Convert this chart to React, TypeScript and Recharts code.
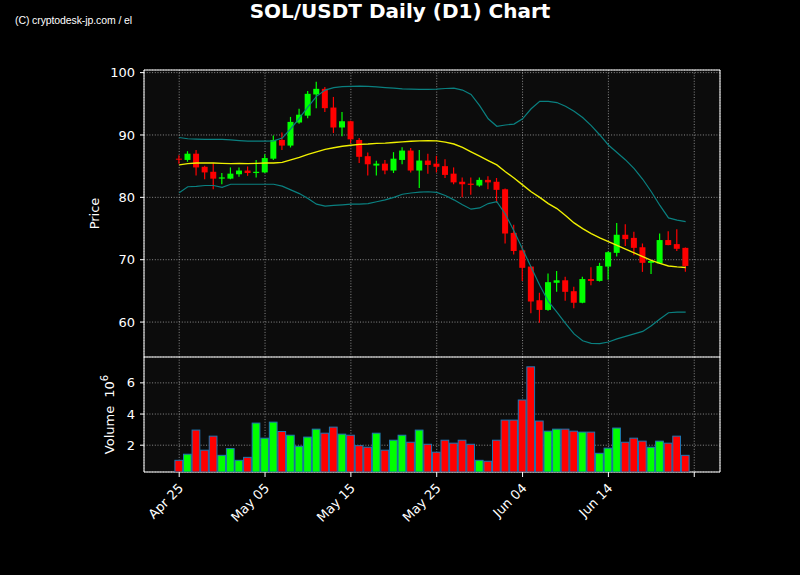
import React from 'react';
import { ComposedChart, Bar, Line, XAxis, YAxis, CartesianGrid, ReferenceArea } from 'recharts';

// day index 0 = Apr 25
const tickDays = [0, 10, 20, 30, 40, 50, 60];
const tickLabels = ['Apr 25', 'May 05', 'May 15', 'May 25', 'Jun 04', 'Jun 14', ''];
const priceTicks = [60, 70, 80, 90, 100];
const volumeTicks = [2, 4, 6];

const opens = [
    86.2, 86.0, 87.0, 84.9, 84.1, 83.0, 83.0, 83.7, 84.3, 83.9,
    84.0, 86.2, 89.2, 88.3, 92.0, 93.1, 96.5, 97.4, 94.4, 91.2,
    92.2, 89.2, 86.6, 85.1, 85.4, 84.3, 86.0, 87.5, 84.3, 85.9,
    85.4, 85.0, 83.8, 82.5, 82.2, 81.9, 82.8, 82.5, 81.3, 74.3,
    71.5, 68.9, 63.5, 61.95, 66.3, 66.7, 64.95, 63.1, 66.9, 66.6,
    68.9, 71.1, 74.0, 73.5, 72.0, 69.5, 69.4, 73.15, 72.5, 71.9,
];
const highs = [
    86.75, 87.4, 87.6, 85.05, 85.5, 83.9, 84.8, 84.8, 84.95, 86.0,
    86.9, 89.9, 90.4, 92.9, 94.2, 97.05, 98.55, 97.7, 96.1, 93.7,
    92.3, 89.5, 87.2, 85.85, 86.0, 87.25, 88.05, 87.9, 87.6, 87.0,
    86.65, 86.1, 84.8, 83.2, 83.2, 83.2, 83.4, 83.1, 81.4, 75.6,
    72.1, 68.95, 64.7, 67.8, 68.2, 67.25, 65.65, 67.25, 68.8, 69.5,
    71.3, 75.9, 75.7, 74.5, 72.6, 69.85, 74.2, 74.55, 74.9, 71.95,
];
const lows = [
    85.4, 85.7, 83.5, 82.9, 81.3, 82.1, 82.9, 83.3, 83.45, 83.2,
    83.9, 86.0, 87.6, 88.0, 91.8, 92.7, 94.3, 93.7, 90.3, 89.8,
    88.7, 85.5, 83.5, 83.5, 83.7, 83.9, 85.3, 84.0, 81.5, 83.8,
    84.0, 83.1, 82.1, 80.0, 80.4, 81.7, 81.3, 79.15, 72.6, 70.85,
    66.6, 61.4, 59.9, 61.8, 64.85, 63.4, 62.2, 63.0, 65.9, 66.5,
    66.8, 70.5, 72.2, 70.7, 68.05, 67.7, 69.3, 72.3, 71.4, 68.05,
];
const closes = [
    86.1, 87.0, 84.8, 84.0, 83.0, 83.2, 83.8, 84.3, 83.9, 84.1,
    86.3, 89.2, 88.3, 92.1, 93.25, 96.6, 97.4, 94.3, 91.2, 92.2,
    89.3, 86.5, 85.3, 85.4, 84.3, 86.2, 87.5, 84.3, 85.9, 85.2,
    84.9, 83.6, 82.4, 82.1, 82.0, 82.8, 82.4, 81.2, 74.2, 71.4,
    68.7, 63.3, 61.95, 66.4, 66.7, 64.85, 63.1, 66.9, 66.6, 69.0,
    71.2, 74.0, 73.3, 71.9, 69.5, 69.8, 73.15, 72.35, 71.75, 69.0,
];
const sma20 = [
    85.2, 85.4, 85.5, 85.5, 85.5, 85.45, 85.4, 85.45, 85.4, 85.45,
    85.5, 85.5, 85.6, 86.0, 86.4, 86.9, 87.3, 87.7, 87.95, 88.2,
    88.35, 88.5, 88.55, 88.65, 88.7, 88.8, 88.9, 89.0, 89.05, 89.1,
    89.05, 88.85, 88.55, 88.0, 87.3, 86.6, 85.9, 85.2, 84.1, 83.1,
    82.0, 80.9, 80.0, 79.0, 78.2, 77.1, 75.9, 75.0, 74.2, 73.5,
    72.9, 72.3, 71.7, 71.1, 70.5, 69.9, 69.4, 69.0, 68.85, 68.75,
];
const bbUpper = [
    89.6, 89.4, 89.35, 89.3, 89.3, 89.3, 89.2, 89.1, 89.0, 89.0,
    89.0, 89.05, 89.5, 91.0, 92.7, 94.5, 96.2, 97.2, 97.6, 97.75,
    97.8, 97.85, 97.8, 97.7, 97.6, 97.5, 97.4, 97.35, 97.3, 97.3,
    97.35, 97.45, 97.5, 97.2, 96.5, 94.7, 92.6, 91.4, 91.6, 91.75,
    92.6, 94.2, 95.4, 95.4, 95.2, 94.6, 93.8, 92.8, 91.5, 90.0,
    88.4, 87.2, 86.0, 84.6, 82.9, 80.9, 78.7, 76.7, 76.35, 76.1,
];
const bbLower = [
    80.75, 81.7, 81.75, 81.9, 81.9, 81.6, 82.1, 82.1, 82.1, 82.1,
    82.1, 82.1, 81.8, 81.2, 80.6, 79.8, 78.9, 78.6, 78.7, 78.8,
    78.9, 78.9, 79.0, 79.3, 79.6, 80.0, 80.5, 80.7, 80.85, 80.9,
    80.8, 80.3, 79.6, 78.8, 78.1, 78.3, 79.0, 79.3, 77.3, 74.6,
    71.7, 68.8, 65.9, 63.3, 61.6, 59.8, 58.1, 57.0, 56.6, 56.55,
    56.8, 57.3, 57.7, 58.1, 58.5, 59.4, 60.5, 61.5, 61.6, 61.6,
];
// volume in units of 10^6
const volumes = [
    1.03, 1.42, 2.97, 1.68, 2.58, 1.35, 1.78, 1.03, 1.22, 3.42,
    2.45, 3.48, 2.88, 2.64, 1.93, 2.52, 3.03, 2.77, 3.16, 2.71,
    2.64, 1.97, 1.87, 2.77, 1.68, 2.32, 2.64, 2.19, 2.97, 2.06,
    1.55, 2.32, 2.13, 2.32, 2.06, 1.03, 0.97, 2.32, 3.61, 3.61,
    4.90, 7.03, 3.55, 2.90, 3.03, 3.03, 2.90, 2.84, 2.84, 1.48,
    1.81, 3.10, 2.19, 2.45, 2.26, 1.87, 2.26, 2.13, 2.58, 1.35,
];

const UP = '#00ff00';
const DOWN = '#ff0000';
const FONT = '"DejaVu Sans", sans-serif';
const X_DOMAIN: [number, number] = [-4.1, 63];
const PRICE_DOMAIN: [number, number] = [54.4, 100.42];
const VOL_DOMAIN: [number, number] = [0.28, 7.66];

const chartData = opens.map((open, i) => ({
    day: i,
    open,
    high: highs[i],
    low: lows[i],
    close: closes[i],
    range: [lows[i], highs[i]],
    sma: sma20[i],
    upper: bbUpper[i],
    lower: bbLower[i],
    volume: volumes[i],
}));

const Candle = (props: any) => {
    const { x, y, width, height, payload } = props;
    const { open, close, high, low } = payload;
    const color = close >= open ? UP : DOWN;
    const top = height >= 0 ? y : y + height;
    const h = Math.abs(height);
    const ratio = h / (high - low);
    const yOpen = top + (high - open) * ratio;
    const yClose = top + (high - close) * ratio;
    const cx = x + width / 2;
    return (
        <g>
            <line x1={cx} x2={cx} y1={top} y2={top + h} stroke={color} strokeWidth={1.2} />
            <rect x={x} y={Math.min(yOpen, yClose)} width={width} height={Math.max(Math.abs(yOpen - yClose), 1)} fill={color} />
        </g>
    );
};

const VolumeBar = (props: any) => {
    const { x, y, width, height, payload } = props;
    const color = payload.close >= payload.open ? UP : DOWN;
    return <rect x={x} y={y} width={width} height={height} fill={color} stroke="#1f77b4" strokeWidth={1} />;
};

const DateTick = (props: any) => {
    const { x, y, payload } = props;
    const label = tickLabels[tickDays.indexOf(payload.value)] ?? '';
    return (
        <text
            x={0}
            y={0}
            transform={`translate(${x + 5},${y + 10}) rotate(-45)`}
            textAnchor="end"
            fill="#fff"
            fontSize={13}
            fontFamily={FONT}
        >
            {label}
        </text>
    );
};

const gridProps = {
    stroke: '#9a9a9a',
    strokeDasharray: '1 1.7',
    strokeWidth: 0.9,
    fill: '#0c0c0c',
};

const yTickStyle = { fill: '#fff', fontSize: 13, fontFamily: FONT };

const App: React.FC = () => {
    return (
        <div style={{ position: 'absolute', left: 0, top: 0, width: 800, height: 575, background: '#000', overflow: 'hidden' }}>
            <div style={{ position: 'absolute', left: 15, top: 14, color: '#fff', fontSize: 10.5, fontFamily: '"Liberation Sans Narrow", "Liberation Sans", sans-serif', letterSpacing: -0.1 }}>
                (C) cryptodesk-jp.com / el
            </div>
            <div style={{ position: 'absolute', left: 0, top: 0, width: 800, textAlign: 'center', color: '#fff', fontSize: 20, fontWeight: 'bold', fontFamily: FONT, lineHeight: '22px' }}>
                SOL/USDT Daily (D1) Chart
            </div>

            <div style={{ position: 'absolute', left: 0, top: 0 }}>
                <ComposedChart width={800} height={357} data={chartData} margin={{ top: 70, right: 80, bottom: 0, left: 0 }}>
                    <CartesianGrid {...gridProps} />
                    <XAxis dataKey="day" type="number" domain={X_DOMAIN} ticks={tickDays} allowDataOverflow hide />
                    <YAxis
                        domain={PRICE_DOMAIN}
                        ticks={priceTicks}
                        allowDataOverflow
                        width={144}
                        axisLine={false}
                        tickLine={{ stroke: '#fff' }}
                        tickSize={4}
                        tickMargin={5}
                        tick={yTickStyle}
                        label={({ viewBox }: any) => (
                            <text
                                x={0}
                                y={0}
                                transform={`translate(${viewBox.x + 99},${viewBox.y + viewBox.height / 2}) rotate(-90)`}
                                textAnchor="middle"
                                fill="#fff"
                                fontSize={13}
                                fontFamily={FONT}
                            >
                                Price
                            </text>
                        )}
                    />
                    <Line dataKey="upper" stroke="#0a8080" strokeWidth={1.2} dot={false} isAnimationActive={false} />
                    <Line dataKey="lower" stroke="#0a8080" strokeWidth={1.2} dot={false} isAnimationActive={false} />
                    <Line dataKey="sma" stroke="#f0f000" strokeWidth={1.4} dot={false} isAnimationActive={false} />
                    <Bar dataKey="range" barSize={6} shape={Candle} isAnimationActive={false} />
                    <ReferenceArea x1={X_DOMAIN[0]} x2={X_DOMAIN[1]} y1={PRICE_DOMAIN[0]} y2={PRICE_DOMAIN[1]} fill="none" stroke="#fff" strokeWidth={1} />
                </ComposedChart>
            </div>

            <div style={{ position: 'absolute', left: 0, top: 357 }}>
                <ComposedChart width={800} height={175} data={chartData} margin={{ top: 0, right: 80, bottom: 0, left: 0 }}>
                    <CartesianGrid {...gridProps} />
                    <XAxis
                        dataKey="day"
                        type="number"
                        domain={X_DOMAIN}
                        ticks={tickDays}
                        allowDataOverflow
                        height={60}
                        axisLine={false}
                        tickLine={{ stroke: '#fff' }}
                        tickSize={5}
                        tick={<DateTick />}
                        interval={0}
                    />
                    <YAxis
                        domain={VOL_DOMAIN}
                        ticks={volumeTicks}
                        allowDataOverflow
                        width={144}
                        axisLine={false}
                        tickLine={{ stroke: '#fff' }}
                        tickSize={4}
                        tickMargin={5}
                        tick={yTickStyle}
                        label={({ viewBox }: any) => (
                            <text
                                x={0}
                                y={0}
                                transform={`translate(${viewBox.x + 114},${viewBox.y + viewBox.height / 2}) rotate(-90)`}
                                textAnchor="middle"
                                fill="#fff"
                                fontSize={13}
                                fontFamily={FONT}
                            >
                                Volume<tspan dx={8}>10</tspan><tspan dy={-6} fontSize={10}>6</tspan>
                            </text>
                        )}
                    />
                    <Bar dataKey="volume" barSize={8.6} shape={VolumeBar} isAnimationActive={false} />
                    <ReferenceArea x1={X_DOMAIN[0]} x2={X_DOMAIN[1]} y1={VOL_DOMAIN[0]} y2={VOL_DOMAIN[1]} fill="none" stroke="#fff" strokeWidth={1} />
                </ComposedChart>
            </div>
        </div>
    );
};

export default App;
